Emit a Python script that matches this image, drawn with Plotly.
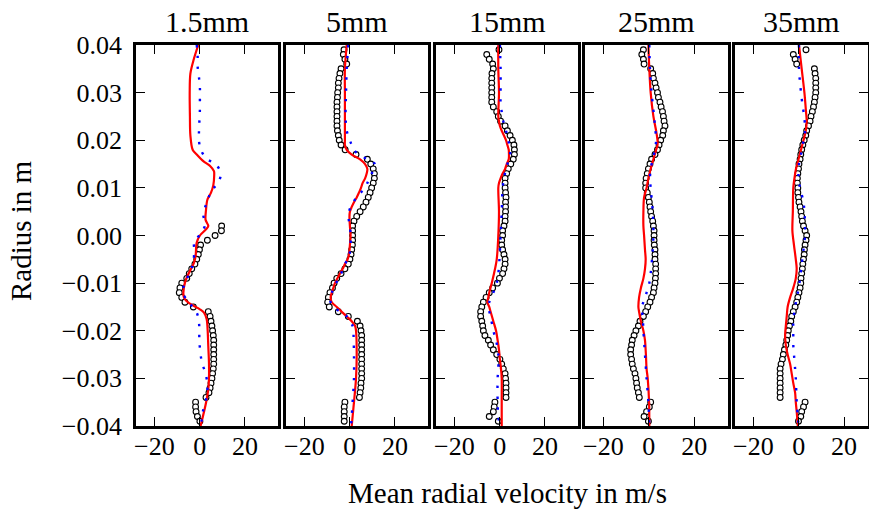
import plotly.graph_objects as go

# ---------------- data ----------------
titles = ["1.5mm", "5mm", "15mm", "25mm", "35mm"]
x_tick_vals = [-20, 0, 20]
y_tick_vals = [-0.04, -0.03, -0.02, -0.01, 0.0, 0.01, 0.02, 0.03, 0.04]
x_label = "Mean radial velocity in m/s"
y_label = "Radius in m"

# Panel 1: 1.5mm
p1_red_r = [0.0400, 0.0370, 0.0340, 0.0300, 0.0250, 0.0210, 0.0180, 0.0170, 0.0156, 0.0146,
            0.0135, 0.0125, 0.0105, 0.0090, 0.0075, 0.0054, 0.0033, 0.0020, 0.0013, 0.0000,
            -0.0015, -0.0043, -0.0057, -0.0071, -0.0085, -0.0099, -0.0120, -0.0131, -0.0141, -0.0148,
            -0.0155, -0.0162, -0.0176, -0.0197, -0.0232, -0.0267, -0.0302, -0.0323, -0.0351, -0.0400]
p1_red_v = [-0.6, -2.6, -4.1, -4.4, -4.3, -4.1, -3.1, -1.3, 1.6, 4.6,
            6.3, 6.4, 6.0, 5.0, 3.4, 2.8, 2.6, 3.8, 2.8, 0.1,
            -1.3, -1.8, -2.5, -3.9, -5.4, -6.5, -7.2, -6.9, -5.0, -2.5,
            0.1, 1.9, 3.1, 3.5, 3.8, 4.1, 4.1, 3.8, 2.8, 0.4]
p1_blue_r = [0.0400, 0.0377, 0.0355, 0.0332, 0.0310, 0.0287, 0.0264, 0.0242, 0.0219, 0.0198,
             0.0179, 0.0161, 0.0149, 0.0131, 0.0114, 0.0098, 0.0082, 0.0065, 0.0044, 0.0023,
             0.0004, -0.0012, -0.0031, -0.0057, -0.0078, -0.0099, -0.0120, -0.0141, -0.0162, -0.0183,
             -0.0225, -0.0267, -0.0288, -0.0312, -0.0337, -0.0372, -0.0400]
p1_blue_v = [-1.3, -0.9, -0.9, -0.3, 0.1, 0.1, 0.1, -0.1, -0.3, -0.3,
             0.6, 3.1, 7.2, 9.3, 8.5, 6.0, 4.1, 2.8, 1.6, 2.4,
             0.6, -2.4, -2.4, -2.8, -4.3, -6.5, -7.5, -4.6, -1.3, -0.3,
             -0.1, 1.0, 2.5, 3.4, 3.1, 1.3, 0.6]
p1_exp_r = [0.002, 0.001, 0.000, -0.001, -0.002, -0.003, -0.004, -0.005, -0.006, -0.007,
            -0.008, -0.009, -0.010, -0.011, -0.012, -0.013, -0.014, -0.015, -0.016, -0.017,
            -0.018, -0.019, -0.020, -0.021, -0.022, -0.023, -0.024, -0.025, -0.026, -0.027,
            -0.028, -0.029, -0.030, -0.031, -0.032, -0.033, -0.034, -0.035, -0.036, -0.037,
            -0.038, -0.039]
p1_exp_v = [9.7, 9.6, 6.8, 3.4, 0.4, -0.1, -0.6, -1.3, -2.1, -3.5,
            -4.6, -5.7, -7.9, -8.7, -9.0, -7.9, -6.5, -2.8, 3.8, 4.6,
            5.0, 5.4, 5.7, 6.0, 6.2, 6.2, 6.2, 6.2, 6.2, 6.2,
            6.0, 5.7, 5.4, 5.0, 4.6, 4.1, 2.8, -1.8, -1.8, -1.6,
            -1.0, 0.1]

# Panel 2: 5mm
p2_red_r = [0.040, 0.035, 0.030, 0.025, 0.020, 0.019, 0.018, 0.017, 0.016, 0.015,
            0.014, 0.013, 0.012, 0.011, 0.010, 0.009, 0.008, 0.007, 0.006, 0.005,
            0.004, 0.002, 0.000, -0.002, -0.004, -0.005, -0.006, -0.007, -0.008, -0.009,
            -0.010, -0.011, -0.012, -0.013, -0.014, -0.015, -0.016, -0.017, -0.018, -0.019,
            -0.020, -0.025, -0.030, -0.035, -0.040]
p2_red_v = [-1.3, -2.1, -2.1, -2.1, -2.1, -2.1, -1.3, 0.9, 4.6, 6.8,
            7.8, 7.5, 6.8, 5.7, 5.0, 4.1, 3.1, 1.9, 0.9, 0.1,
            -0.1, 0.1, 0.4, 0.1, -0.3, -0.9, -2.1, -3.1, -4.3, -5.4,
            -6.5, -7.2, -7.9, -8.4, -7.9, -5.7, -3.5, -1.3, 0.9, 2.4,
            2.8, 3.1, 2.8, 1.9, 0.9]
p2_blue_r = [0.040, 0.035, 0.030, 0.025, 0.022, 0.020, 0.019, 0.018, 0.017, 0.016,
             0.015, 0.014, 0.013, 0.012, 0.011, 0.010, 0.009, 0.008, 0.007, 0.006,
             0.005, 0.004, 0.003, 0.002, 0.000, -0.002, -0.004, -0.005, -0.006, -0.008,
             -0.010, -0.012, -0.013, -0.014, -0.015, -0.016, -0.017, -0.018, -0.019, -0.020,
             -0.025, -0.030, -0.035, -0.038, -0.040]
p2_blue_v = [-0.6, -1.3, -1.6, -1.8, -1.3, 0.1, 0.9, 1.9, 3.8, 7.8,
             11.2, 10.7, 9.7, 8.7, 7.8, 6.8, 4.9, 3.1, 1.6, 0.4,
             -0.3, -0.6, -0.3, 0.1, 0.4, 0.4, -0.1, -0.9, -2.1, -3.8,
             -6.0, -7.9, -8.7, -8.4, -6.9, -4.3, -1.3, 0.1, 1.3, 1.6,
             1.9, 1.9, 1.3, 0.9, 0.6]
full_exp_r = [0.039, 0.038, 0.037, 0.036, 0.035, 0.034, 0.033, 0.032, 0.031, 0.030,
              0.029, 0.028, 0.027, 0.026, 0.025, 0.024, 0.023, 0.022, 0.021, 0.020,
              0.019, 0.018, 0.017, 0.016, 0.015, 0.014, 0.013, 0.012, 0.011, 0.010,
              0.009, 0.008, 0.007, 0.006, 0.005, 0.004, 0.003, 0.002, 0.001, 0.000,
              -0.001, -0.002, -0.003, -0.004, -0.005, -0.006, -0.007, -0.008, -0.009, -0.010,
              -0.011, -0.012, -0.013, -0.014, -0.015, -0.016, -0.017, -0.018, -0.019, -0.020,
              -0.021, -0.022, -0.023, -0.024, -0.025, -0.026, -0.027, -0.028, -0.029, -0.030,
              -0.031, -0.032, -0.033, -0.034, -0.035, -0.036, -0.037, -0.038, -0.039]
p2_exp_v = [-2.5, -2.8, -2.1, -1.3, -3.8, -4.3, -4.7, -5.0, -5.0, -5.3,
            -5.4, -5.6, -5.6, -5.6, -5.6, -5.6, -5.6, -5.4, -5.0, -4.6,
            -3.8, -2.0, 2.8, 7.8, 9.3, 10.4, 10.9, 10.9, 10.4, 9.7,
            9.0, 8.2, 7.2, 6.0, 4.6, 3.1, 1.9, 1.3, 1.3, 1.3,
            1.3, 1.2, 0.9, 0.6, 0.1, -0.6, -2.1, -3.8, -5.7, -6.9,
            -7.6, -8.7, -9.4, -9.7, -9.0, -5.0, -0.6, 3.4, 4.6, 5.0,
            5.3, 5.3, 5.3, 5.3, 5.3, 5.3, 5.3, 5.3, 5.3, 5.3,
            5.0, 4.9, 4.6, 4.3, -2.1, -2.4, -2.4, -2.4, -2.4]

# Panel 3: 15mm
p3_red_r = [0.040, 0.035, 0.030, 0.025, 0.024, 0.023, 0.022, 0.021, 0.020, 0.019,
            0.018, 0.017, 0.016, 0.015, 0.014, 0.013, 0.012, 0.011, 0.010, 0.005,
            0.000, -0.005, -0.008, -0.010, -0.012, -0.013, -0.014, -0.015, -0.016, -0.018,
            -0.020, -0.022, -0.024, -0.026, -0.028, -0.030, -0.035, -0.040]
p3_red_v = [-0.6, -0.6, -0.3, -0.6, -0.3, 0.1, 0.9, 1.9, 2.8, 3.4,
            4.0, 4.1, 4.0, 3.1, 2.4, 1.3, 0.4, -0.3, -0.6, -0.3,
            -0.6, -1.3, -2.5, -3.5, -4.6, -5.0, -5.4, -4.6, -4.0, -2.8,
            -1.6, -0.9, -0.3, 0.1, 0.6, 0.9, 0.9, 0.9]
p3_blue_r = [0.040, 0.035, 0.030, 0.028, 0.026, 0.024, 0.022, 0.020, 0.018, 0.017,
             0.016, 0.015, 0.014, 0.012, 0.010, 0.005, 0.000, -0.005, -0.008, -0.010,
             -0.012, -0.014, -0.015, -0.017, -0.020, -0.022, -0.025, -0.028, -0.030, -0.035,
             -0.038, -0.040]
p3_blue_v = [0.1, 0.4, 0.4, 0.4, 0.9, 1.6, 2.8, 3.8, 4.6, 4.6,
             4.3, 3.4, 2.8, 1.9, 1.3, 0.9, 0.4, -0.1, -0.6, -1.3,
             -2.8, -4.6, -5.0, -4.0, -2.8, -1.6, -0.6, -0.6, -0.9, -0.9,
             -0.6, 0.1]
p3_exp_v = [-0.3, -5.7, -4.6, -3.1, -2.8, -3.4, -3.5, -3.5, -3.5, -3.5,
            -3.5, -3.5, -2.8, -1.3, -0.6, 0.4, 2.4, 3.4, 4.6, 5.6,
            6.3, 6.5, 6.5, 6.0, 4.9, 3.8, 3.1, 2.4, 2.4, 2.4,
            2.6, 2.8, 2.6, 2.6, 2.6, 2.4, 2.4, 1.9, 1.3, 1.3,
            0.9, 0.9, 1.3, 1.9, 2.4, 2.4, 1.9, 1.3, -0.1, -1.0,
            -3.1, -4.6, -6.0, -7.2, -7.9, -8.4, -8.4, -7.9, -7.5, -7.2,
            -6.5, -5.0, -4.0, -2.8, -1.3, 0.1, 0.9, 1.6, 2.4, 2.6,
            2.8, 2.8, 2.8, 2.8, -2.1, -2.4, -2.8, -4.6, -0.6]

# Panel 4: 25mm
p4_red_r = [0.040, 0.035, 0.030, 0.025, 0.022, 0.020, 0.019, 0.018, 0.016, 0.014,
            0.012, 0.010, 0.008, 0.005, 0.002, 0.000, -0.003, -0.005, -0.007, -0.009,
            -0.011, -0.013, -0.015, -0.016, -0.018, -0.020, -0.022, -0.025, -0.028, -0.030,
            -0.035, -0.040]
p4_red_v = [-0.2, 0.2, 0.8, 2.0, 3.2, 3.8, 3.8, 3.2, 2.0, 0.8,
            -0.2, -1.0, -2.1, -2.4, -2.4, -2.1, -1.7, -1.4, -1.7, -2.4,
            -3.5, -4.3, -4.6, -4.3, -3.5, -2.4, -1.7, -1.3, -1.0, -0.5,
            0.1, 0.2]
p4_blue_r = [0.040, 0.035, 0.030, 0.025, 0.022, 0.020, 0.018, 0.016, 0.014, 0.012,
             0.010, 0.005, 0.000, -0.005, -0.008, -0.010, -0.012, -0.014, -0.015, -0.017,
             -0.020, -0.025, -0.030, -0.035, -0.040]
p4_blue_v = [0.2, 0.5, 1.2, 2.3, 2.9, 3.2, 2.7, 1.7, 0.8, 0.5,
             0.8, 1.7, 2.0, 1.4, 0.8, 0.2, -1.0, -2.4, -3.2, -2.7,
             -2.4, -1.7, -1.0, -0.2, 0.2]
p4_exp_v = [-2.4, -3.1, -2.4, -2.1, 0.8, 1.7, 2.0, 2.7, 3.2, 3.8,
            4.2, 4.9, 5.4, 6.0, 6.4, 6.7, 7.1, 6.4, 6.1, 5.2,
            4.5, 3.8, 2.7, 1.2, 0.5, -0.2, -0.7, -1.2, -1.4, -1.4,
            -0.7, -0.2, 0.2, 0.5, 0.8, 1.2, 1.7, 2.0, 2.3, 2.3,
            2.3, 2.4, 2.7, 2.7, 2.7, 3.0, 3.0, 3.0, 2.9, 2.7,
            2.3, 2.0, 1.2, 0.5, -0.5, -1.4, -2.4, -3.9, -4.6, -5.7,
            -6.5, -7.3, -7.6, -8.0, -8.0, -7.6, -7.3, -6.8, -6.1, -5.7,
            -5.4, -5.1, -4.6, -4.2, 0.8, 0.2, -1.0, -2.1, -0.2]

# Panel 5: 35mm
p5_red_r = [0.040, 0.035, 0.030, 0.026, 0.024, 0.022, 0.020, 0.018, 0.016, 0.014,
            0.012, 0.010, 0.005, 0.001, -0.002, -0.005, -0.007, -0.009, -0.011, -0.013,
            -0.015, -0.017, -0.019, -0.021, -0.023, -0.025, -0.027, -0.029, -0.031, -0.033,
            -0.035, -0.037, -0.040]
p5_red_v = [0.1, 1.3, 2.5, 3.2, 3.5, 3.1, 2.1, 1.0, -0.1, -1.2,
            -1.9, -2.4, -2.6, -2.8, -2.1, -1.3, -0.9, -1.3, -2.4, -3.8,
            -4.9, -5.3, -5.7, -6.0, -5.7, -4.9, -3.8, -3.1, -2.4, -1.6,
            -1.3, -0.9, -0.4]
p5_blue_r = [0.040, 0.035, 0.030, 0.027, 0.025, 0.022, 0.020, 0.017, 0.015, 0.012,
             0.010, 0.007, 0.005, 0.002, 0.000, -0.003, -0.006, -0.009, -0.012, -0.015,
             -0.018, -0.020, -0.023, -0.025, -0.028, -0.030, -0.035, -0.038, -0.040]
p5_blue_v = [0.1, 0.1, 1.0, 1.8, 2.4, 2.8, 2.1, 1.0, 0.1, -0.1,
             0.6, 2.1, 2.5, 2.8, 2.8, 2.1, 1.3, 0.6, -0.4, -1.6,
             -2.4, -2.4, -2.4, -2.1, -1.6, -1.3, -0.9, -0.4, -0.1]
p5_exp_v = [3.2, -2.4, -1.6, -0.9, 6.9, 7.2, 7.5, 7.5, 7.5, 7.5,
            7.2, 6.9, 6.5, 6.0, 5.4, 5.0, 4.3, 3.5, 3.1, 2.4,
            1.8, 1.3, 0.9, 0.6, 0.1, -0.1, -0.4, -0.6, -0.6, -0.4,
            -0.4, -0.1, 0.1, 0.6, 1.0, 1.3, 1.6, 2.1, 2.8, 3.5,
            3.2, 2.8, 2.5, 2.4, 2.1, 1.8, 1.6, 1.3, 1.0, 0.9,
            0.6, 0.1, -0.4, -0.9, -1.6, -2.4, -3.1, -3.5, -4.1, -4.6,
            -4.9, -5.3, -5.7, -6.3, -6.8, -7.2, -7.8, -8.2, -8.2, -8.2,
            -8.2, -8.2, -8.2, -8.2, 2.8, 2.1, 1.3, 0.9, -0.1]

panels = [
    (p1_exp_r, p1_exp_v, p1_red_r, p1_red_v, p1_blue_r, p1_blue_v),
    (full_exp_r, p2_exp_v, p2_red_r, p2_red_v, p2_blue_r, p2_blue_v),
    (full_exp_r, p3_exp_v, p3_red_r, p3_red_v, p3_blue_r, p3_blue_v),
    (full_exp_r, p4_exp_v, p4_red_r, p4_red_v, p4_blue_r, p4_blue_v),
    (full_exp_r, p5_exp_v, p5_red_r, p5_red_v, p5_blue_r, p5_blue_v),
]

# ---------------- layout geometry (pixels) ----------------
W, H = 869, 512
left_px = [136, 286, 436, 585, 735]
right_px = [278.3, 428.3, 578.3, 727.7, 867.7]
x_ranges = [[-28.1, 34.7]] * 4 + [[-28.1, 30.4]]
top_px, bottom_px = 45, 426
ydom = [1 - bottom_px / H, 1 - top_px / H]

FONT = "Liberation Serif, Times New Roman, DejaVu Serif, serif"

fig = go.Figure()
layout = dict(
    template="none",
    width=W, height=H, autosize=False,
    margin=dict(l=0, r=0, t=0, b=0, pad=0),
    paper_bgcolor="white", plot_bgcolor="white",
    showlegend=False, hovermode=False,
    font=dict(family=FONT, color="black", size=26),
)

annotations = []
for i, (er, ev, rr, rv, br, bv) in enumerate(panels):
    n = "" if i == 0 else str(i + 1)
    xa, ya = "x" + n, "y" + n
    fig.add_trace(go.Scatter(
        x=ev, y=er, mode="markers", xaxis=xa, yaxis=ya,
        marker=dict(symbol="circle", size=5.8, color="white",
                    line=dict(color="black", width=1.1)),
        cliponaxis=True))
    fig.add_trace(go.Scatter(
        x=rv, y=rr, mode="lines", xaxis=xa, yaxis=ya,
        line=dict(color="#ff0000", width=2.2, shape="spline", smoothing=0.9)))
    fig.add_trace(go.Scatter(
        x=bv, y=br, mode="lines", xaxis=xa, yaxis=ya,
        line=dict(color="#0000ff", width=2.4, shape="spline", smoothing=0.9,
                  dash="2.4px,8.4px")))

    common = dict(showline=True, linecolor="black", linewidth=2.6, mirror="ticks",
                  ticks="inside", ticklen=9, tickwidth=1.4, tickcolor="black",
                  showgrid=False, zeroline=False, automargin=False,
                  tickfont=dict(family=FONT, size=26, color="black"))
    layout["xaxis" + n] = dict(
        domain=[left_px[i] / W, right_px[i] / W], anchor=ya,
        range=x_ranges[i], tickmode="array", tickvals=x_tick_vals,
        ticklabelstandoff=-5, **common)
    ydict = dict(domain=ydom, anchor=xa, range=[-0.04, 0.04],
                 tickmode="array", tickvals=y_tick_vals, tickformat=".2f",
                 showticklabels=(i == 0), ticklabelstandoff=6, **common)
    layout["yaxis" + n] = ydict

    annotations.append(dict(
        text=titles[i], xref="paper", yref="paper",
        x=(left_px[i] + right_px[i]) / 2 / W, y=1 - 21.5 / H,
        xanchor="center", yanchor="middle", showarrow=False,
        font=dict(family=FONT, size=30, color="black")))

annotations.append(dict(
    text=x_label, xref="paper", yref="paper",
    x=507 / W, y=1 - 493 / H, xanchor="center", yanchor="middle",
    showarrow=False, font=dict(family=FONT, size=29, color="black")))
annotations.append(dict(
    text=y_label, xref="paper", yref="paper",
    x=21 / W, y=1 - 231 / H, xanchor="center", yanchor="middle",
    textangle=-90, showarrow=False, font=dict(family=FONT, size=29, color="black")))

layout["annotations"] = annotations
fig.update_layout(**layout)
fig.write_html("out.html", config={"displayModeBar": False},
               post_script="document.body.style.margin='0';document.body.style.overflow='hidden';")
